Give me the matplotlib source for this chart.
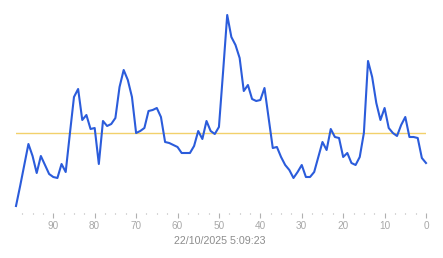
import numpy as np
import matplotlib.pyplot as plt
from matplotlib.ticker import MultipleLocator

# === Daten (aelteste Probe zuerst, x = Sekunden vor jetzt) ===
ages = np.arange(99, -1, -1)
values = [7, 27, 48, 69, 57, 40, 57, 48, 39, 36,
          35, 49, 41, 79, 116, 124, 93, 98, 84, 85,
          49, 92, 87, 89, 95, 126, 143, 133, 116, 80,
          82, 85, 102, 103, 105, 96, 71, 70, 68, 66,
          60, 60, 60, 67, 82, 74, 92, 82, 79, 86,
          141, 198, 176, 168, 155, 122, 128, 114, 112, 113,
          125, 95, 65, 66, 56, 48, 43, 35, 41, 48,
          36, 36, 41, 56, 71, 63, 84, 76, 75, 56,
          60, 50, 48, 56, 80, 152, 136, 110, 93, 105,
          85, 80, 77, 88, 96, 76, 76, 75, 55, 50]
reference = 80
timestamp = "22/10/2025 5:09:23"

plt.rcParams['font.family'] = ['Liberation Sans', 'DejaVu Sans']

fig = plt.figure(figsize=(4.43, 2.58), dpi=100)
ax = fig.add_axes([16 / 443, 45 / 258, 410 / 443, 213 / 258])

# Referenzlinie
ax.plot([ages[0], ages[-1]], [reference, reference], color='#f2d16b', linewidth=1, zorder=1)

# Messwerte
ax.plot(ages, values, color='#2b5cdb', linewidth=1.5, solid_joinstyle='round',
        clip_on=False, zorder=2)

ax.set_xlim(99, 0)
ax.set_ylim(0, 213)

for s in ax.spines.values():
    s.set_visible(False)
ax.set_yticks([])

ax.xaxis.set_major_locator(MultipleLocator(10))
ax.xaxis.set_minor_locator(MultipleLocator(2.5))
ax.tick_params(axis='x', which='major', length=3.5, width=0.8, color='#b0b0b0',
               labelcolor='#a8a8a8', labelsize=7.2, pad=2)
ax.tick_params(axis='x', which='minor', length=0.8, width=0.8, color='#b0b0b0')

fig.text(220 / 443, 1 - 241 / 258, timestamp, ha='center', va='center',
         fontsize=7.7, color='#8c8c8c')

plt.savefig("out.png", dpi=100)
